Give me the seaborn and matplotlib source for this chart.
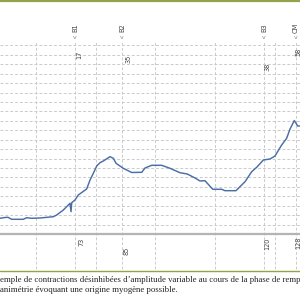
import matplotlib
matplotlib.use("Agg")
import matplotlib.pyplot as plt
from matplotlib.lines import Line2D
import seaborn as sns
import pandas as pd

# ---- data ----
time_s = [84.0, 89.0, 92.0, 95.7, 107.4, 110.8, 115.8, 124.2, 137.5, 140.9,
          147.6, 154.3, 155.3, 156.0, 159.3, 162.6, 171.0, 174.4, 177.7, 181.1,
          184.4, 187.7, 194.4, 197.8, 200.5, 207.8, 216.2, 226.3, 229.6, 236.3,
          246.3, 254.7, 264.7, 272.0, 279.8, 284.8, 289.8, 297.6, 306.6, 309.9,
          320.9, 330.0, 336.7, 342.0, 348.4, 355.1, 360.1, 366.8, 371.8, 375.2,
          379.5, 382.9, 385.2]
pressure = [8.32, 8.75, 8.85, 7.79, 7.79, 8.64, 8.32, 8.48, 9.17, 10.07,
            12.72, 16.28, 11.82, 16.60, 18.03, 20.68, 23.86, 28.63, 32.18, 36.05,
            37.80, 38.70, 40.98, 40.14, 37.48, 34.83, 32.61, 32.71, 34.99, 36.42,
            36.42, 34.83, 32.50, 31.81, 29.69, 28.10, 28.26, 23.70, 23.70, 22.96,
            22.96, 27.73, 33.03, 35.52, 39.23, 39.77, 41.36, 47.19, 50.74, 55.67,
            60.18, 57.26, 57.26]

event_names = ["B1", "B2", "B3", "CM"]
event_times = [159.3, 206.5, 349.1, 381.2]
event_pressures = ["17", "35", "38", "58"]
event_volumes = ["73", "85", "120", "128"]

time_grid = [120, 180, 240, 300, 360]
pressure_grid = [5, 10, 15, 20, 25, 30, 35, 40, 45, 50, 55, 60, 65, 70, 75,
                 80, 85, 90, 95, 100]

caption_lines = [
    "emple de contractions désinhibées d’amplitude variable au cours de la phase de remp",
    "animétrie évoquant une origine myogène possible.",
]

# ---- layout / style ----
press_label_pos = [(4.7, 94.9), (7.0, 92.8), (3.5, 88.5), (2.5, 96.5)]
vol_label_pos = [(6.0, -4.2), (4.8, -9.0), (3.5, -5.3), (2.5, -4.8)]

sns.set_style("white")
fig = plt.figure(figsize=(3, 3), dpi=100)
ax = fig.add_axes([0, 0, 1, 1])
ax.set_xlim(84, 385.2)
ax.set_ylim(-35.0, 124.07)
ax.axis("off")

grid_kw = dict(color="#cbcbcb", linewidth=0.7, linestyle=(0, (3, 2)))
for p in pressure_grid:
    ax.axhline(p, **grid_kw, zorder=1)
ax.vlines(time_grid, -18.6, 102.3, **grid_kw, zorder=1)
ax.vlines(event_times, -18.6, 102.3, **grid_kw, zorder=1)
ax.axhline(0, color="#b4b4b4", linewidth=1.6, zorder=2)

df = pd.DataFrame({"t": time_s, "p": pressure})
sns.lineplot(data=df, x="t", y="p", ax=ax, color="#4a6ea6", linewidth=1.05,
             sort=False, zorder=3)
ax.set_xlabel("")
ax.set_ylabel("")

for i, (name, t) in enumerate(zip(event_names, event_times)):
    ax.text(t, 109.5, name, rotation=90, ha="center", va="center",
            fontsize=4.8, color="#444444", family="DejaVu Sans")
    ax.text(t, 104.3, "v", ha="center", va="center", fontsize=4.5,
            color="#888888", family="DejaVu Sans")
    dx, y = press_label_pos[i]
    ax.text(t + dx, y, event_pressures[i], rotation=90, ha="center",
            va="center", fontsize=4.7, color="#444444", family="DejaVu Sans")
    dx, y = vol_label_pos[i]
    ax.text(t + dx, y, event_volumes[i], rotation=90, ha="center",
            va="center", fontsize=4.7, color="#444444", family="DejaVu Sans")

olive = "#93a34c"
fig.add_artist(Line2D([0, 1], [0.9967, 0.9967], color=olive, linewidth=1.6,
                      transform=fig.transFigure))
fig.add_artist(Line2D([0, 1], [0.0983, 0.0983], color=olive, linewidth=1.0,
                      transform=fig.transFigure))

fig.text(0.0, 1 - 279.5 / 300, caption_lines[0], ha="left", va="center",
         fontsize=6.35, color="#222222", family="Liberation Serif")
fig.text(0.0, 1 - 289.5 / 300, caption_lines[1], ha="left", va="center",
         fontsize=6.35, color="#222222", family="Liberation Serif")

fig.savefig("out.png", dpi=100)
